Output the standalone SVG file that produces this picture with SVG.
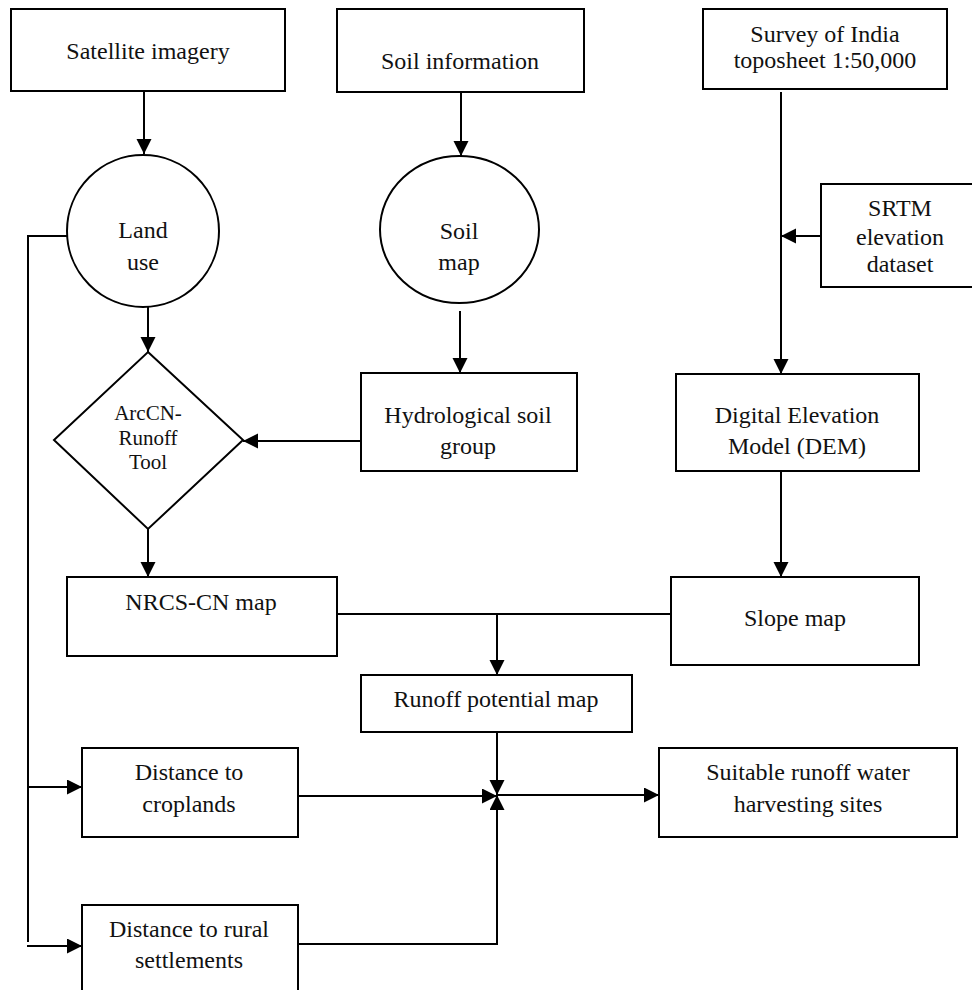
<svg xmlns="http://www.w3.org/2000/svg" width="972" height="990" viewBox="0 0 972 990">
<style>
.n{fill:#fff;stroke:#000;stroke-width:2}
.t{font-family:"Liberation Serif","Times New Roman",serif;font-size:24px;fill:#111;text-anchor:middle}
.s{font-size:21px}
.c{fill:none;stroke:#000;stroke-width:2}
</style>
<defs>
<marker id="ah" markerUnits="userSpaceOnUse" markerWidth="16" markerHeight="16" refX="15" refY="7.5" orient="auto">
<path d="M0,0 L15,7.5 L0,15 Z" fill="#000"/>
</marker>
</defs>
<rect width="972" height="990" fill="#fff"/>
<g id="satellite"><rect class="n" x="11" y="9" width="274" height="82"/><text class="t" x="148" y="59">Satellite imagery</text></g>
<g id="soilinfo"><rect class="n" x="337" y="9" width="247" height="83"/><text class="t" x="460" y="69">Soil information</text></g>
<g id="survey"><rect class="n" x="703" y="9" width="244" height="80"/><text class="t" x="825" y="42">Survey of India</text><text class="t" x="825" y="68">toposheet 1:50,000</text></g>
<g id="srtm"><rect class="n" x="821" y="184" width="156" height="103"/><text class="t" x="900" y="216">SRTM</text><text class="t" x="900" y="245">elevation</text><text class="t" x="900" y="272">dataset</text></g>
<g id="landuse"><circle class="n" cx="143" cy="231" r="76"/><text class="t" x="143" y="238">Land</text><text class="t" x="143" y="270">use</text></g>
<g id="soilmap"><ellipse class="n" cx="459.5" cy="229.5" rx="79.5" ry="73.5"/><text class="t" x="459" y="239">Soil</text><text class="t" x="459" y="270">map</text></g>
<g id="arccn"><polygon class="n" points="148,352 243,440 148,529 54,440"/><text class="t s" x="148" y="420">ArcCN-</text><text class="t s" x="148" y="445">Runoff</text><text class="t s" x="148" y="469">Tool</text></g>
<g id="hsg"><rect class="n" x="361" y="373" width="216" height="98"/><text class="t" x="468" y="423">Hydrological soil</text><text class="t" x="468" y="454">group</text></g>
<g id="dem"><rect class="n" x="676" y="374" width="243" height="97"/><text class="t" x="797" y="423">Digital Elevation</text><text class="t" x="797" y="454">Model (DEM)</text></g>
<g id="nrcs"><rect class="n" x="67" y="577" width="270" height="79"/><text class="t" x="201" y="610">NRCS-CN map</text></g>
<g id="slope"><rect class="n" x="671" y="577" width="248" height="88"/><text class="t" x="795" y="626">Slope map</text></g>
<g id="runoff"><rect class="n" x="361" y="675" width="271" height="57"/><text class="t" x="496" y="707">Runoff potential map</text></g>
<g id="croplands"><rect class="n" x="82" y="748" width="216" height="89"/><text class="t" x="189" y="780">Distance to</text><text class="t" x="189" y="812">croplands</text></g>
<g id="rural"><rect class="n" x="82" y="905" width="216" height="95"/><text class="t" x="189" y="937">Distance to rural</text><text class="t" x="189" y="968">settlements</text></g>
<g id="suitable"><rect class="n" x="659" y="748" width="298" height="89"/><text class="t" x="808" y="780">Suitable runoff water</text><text class="t" x="808" y="812">harvesting sites</text></g>
<g id="connectors">
<path class="c" d="M144,91 V154" marker-end="url(#ah)"/>
<path class="c" d="M461,92 V156" marker-end="url(#ah)"/>
<path class="c" d="M781,92 V374" marker-end="url(#ah)"/>
<path class="c" d="M821,236 H781" marker-end="url(#ah)"/>
<path class="c" d="M148,307 V352" marker-end="url(#ah)"/>
<path class="c" d="M460,311 V373" marker-end="url(#ah)"/>
<path class="c" d="M361,441 H243" marker-end="url(#ah)"/>
<path class="c" d="M148,529 V577" marker-end="url(#ah)"/>
<path class="c" d="M781,471 V577" marker-end="url(#ah)"/>
<path class="c" d="M337,614 H671"/>
<path class="c" d="M497,614 V675" marker-end="url(#ah)"/>
<path class="c" d="M497,732 V795" marker-end="url(#ah)"/>
<path class="c" d="M298,796 H497" marker-end="url(#ah)"/>
<path class="c" d="M298,944 H497 V795" marker-end="url(#ah)"/>
<path class="c" d="M497,795 H659" marker-end="url(#ah)"/>
<path class="c" d="M67,236 H28 V942"/>
<path class="c" d="M28,787 H82" marker-end="url(#ah)"/>
<path class="c" d="M27,946 H82" marker-end="url(#ah)"/>
</g>
</svg>
